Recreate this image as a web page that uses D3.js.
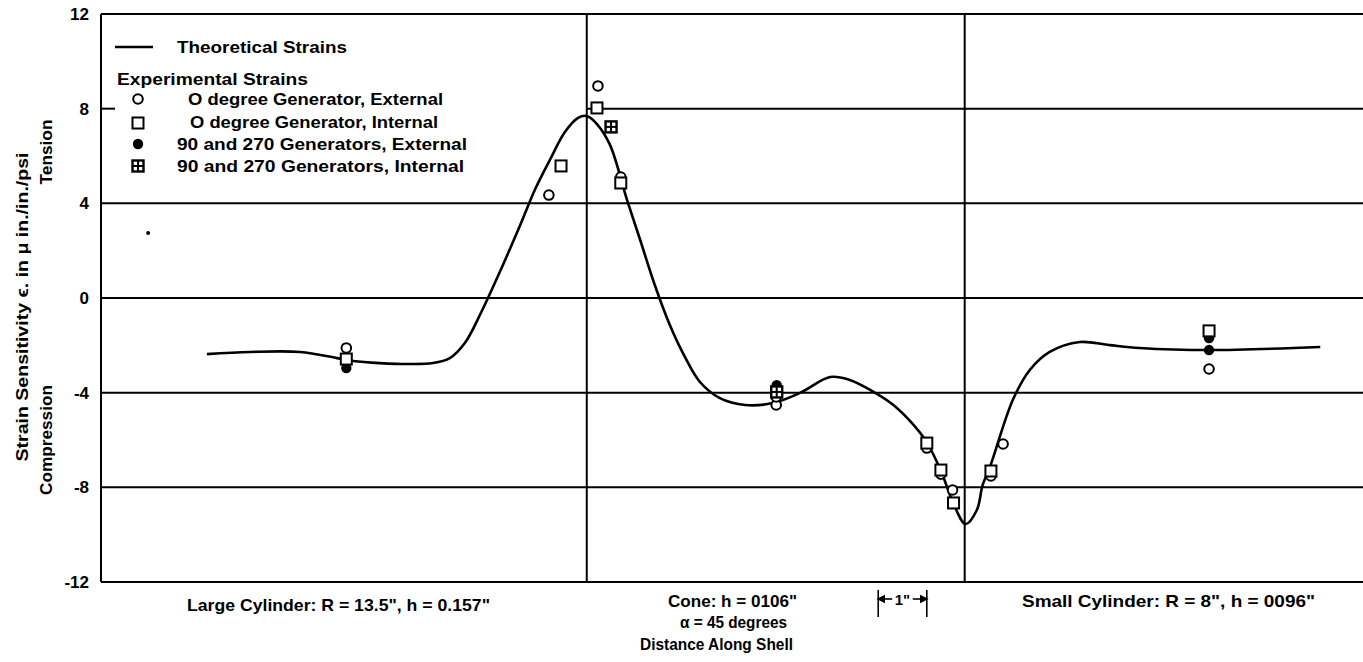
<!DOCTYPE html>
<html>
<head>
<meta charset="utf-8">
<script src="https://cdn.jsdelivr.net/npm/d3@7"></script>
<style>
  body { margin: 0; background: #fff; }
  text { font-family: "Liberation Sans", Arial, sans-serif; font-weight: bold; fill: #000; }
</style>
</head>
<body>
<svg id="chart" width="1363" height="662"></svg>
<script>
// distance along shell in inches, 0 = start of cone, cone ends at 7.78
const coneStart = 0;
const coneEnd = 7.78;

// theoretical strain curve
const theoryX = [-7.82, -6.93, -5.90, -5.14, -4.81, -4.26, -3.64, -3.17, -2.82, -2.51, -2.20, -1.79, -1.37, -1.07, -0.76, -0.45, -0.18, 0.00,
  0.21, 0.48, 0.83, 1.10, 1.40, 1.71, 2.02, 2.33, 2.74, 3.26, 3.83, 4.39, 5.01, 5.40, 5.85, 6.30, 6.70, 7.00, 7.30, 7.55, 7.80,
  8.03, 8.15, 8.30, 8.77, 9.12, 9.53, 10.15, 10.76, 11.38, 12.81, 15.10];
const theoryY = [-2.37, -2.28, -2.28, -2.54, -2.66, -2.75, -2.79, -2.75, -2.54, -1.90, -0.72, 1.10, 3.08, 4.56, 5.83, 7.01, 7.61, 7.69,
  7.35, 6.46, 4.14, 2.45, 0.55, -1.14, -2.49, -3.55, -4.23, -4.52, -4.44, -4.01, -3.34, -3.45, -3.90, -4.50, -5.30, -6.10, -7.35, -8.70, -9.55,
  -8.96, -7.90, -7.14, -4.31, -3.04, -2.28, -1.86, -1.99, -2.11, -2.20, -2.07];

// experimental strains
const extZeroX = [-4.95, -0.78, 0.23, 0.70, 3.90, 3.90, 7.00, 7.29, 7.53, 8.32, 8.57, 12.81];
const extZeroY = [-2.11, 4.35, 8.96, 5.11, -4.52, -4.18, -6.34, -7.44, -8.11, -7.52, -6.17, -3.00];
const intZeroX = [-4.95, -0.53, 0.21, 0.70, 7.00, 7.29, 7.55, 8.32, 12.81];
const intZeroY = [-2.58, 5.58, 8.03, 4.86, -6.13, -7.27, -8.66, -7.31, -1.39];
const extSideX = [-4.95, 3.91, 12.81, 12.81];
const extSideY = [-2.96, -3.68, -1.69, -2.20];
const intSideX = [0.50, 3.91];
const intSideY = [7.23, -3.97];
const speckX = [-9.03];
const speckY = [2.75];

const yTicks = [12, 8, 4, 0, -4, -8, -12];
const legendLabels = ["O degree Generator, External", "O degree Generator, Internal",
  "90 and 270 Generators, External", "90 and 270 Generators, Internal"];

const svg = d3.select("#chart");
const x = d3.scaleLinear().domain([-10, 16]).range([101, 1364]);
const y = d3.scaleLinear().domain([-12, 12]).range([582, 14]);

// frame and grid
const grid = svg.append("g").attr("stroke", "#000").attr("stroke-width", 2);
yTicks.forEach(t => {
  if (t === 8) {
    grid.append("line").attr("x1", x(-10)).attr("x2", x(-10) + 14).attr("y1", y(t)).attr("y2", y(t));
    grid.append("line").attr("x1", x(coneStart)).attr("x2", 1363).attr("y1", y(t)).attr("y2", y(t));
  } else {
    grid.append("line").attr("x1", x(-10)).attr("x2", 1363).attr("y1", y(t)).attr("y2", y(t));
  }
});
[ -10, coneStart, coneEnd ].forEach(v => {
  grid.append("line").attr("x1", x(v)).attr("x2", x(v)).attr("y1", y(12)).attr("y2", y(-12));
});

// y axis labels
const yAxis = d3.axisLeft(y).tickValues(yTicks).tickSize(0).tickPadding(12)
  .tickFormat(d => d < 0 ? "-" + Math.abs(d) : String(d));
const ga = svg.append("g").attr("transform", `translate(${x(-10)},0)`).call(yAxis);
ga.select(".domain").remove();
ga.selectAll("text").attr("font-size", 17).attr("font-family", null)
  .style("font-family", "Liberation Sans, Arial, sans-serif").style("font-weight", "bold");

// theoretical curve
const line = d3.line().x(d => x(d[0])).y(d => y(d[1])).curve(d3.curveCatmullRom.alpha(0.5));
svg.append("path").datum(d3.zip(theoryX, theoryY))
  .attr("d", line).attr("fill", "none").attr("stroke", "#000").attr("stroke-width", 2.6);

// marker drawers
function openCircle(g, cx, cy) {
  g.append("circle").attr("cx", cx).attr("cy", cy).attr("r", 4.8)
    .attr("fill", "#fff").attr("stroke", "#000").attr("stroke-width", 2);
}
function openSquare(g, cx, cy) {
  g.append("rect").attr("x", cx - 5.5).attr("y", cy - 5.5).attr("width", 11).attr("height", 11)
    .attr("fill", "#fff").attr("stroke", "#000").attr("stroke-width", 2);
}
function filledCircle(g, cx, cy) {
  g.append("circle").attr("cx", cx).attr("cy", cy).attr("r", 5.2).attr("fill", "#000");
}
function gridSquare(g, cx, cy) {
  g.append("rect").attr("x", cx - 5.5).attr("y", cy - 5.5).attr("width", 11).attr("height", 11)
    .attr("fill", "#fff").attr("stroke", "#000").attr("stroke-width", 2.4);
  g.append("line").attr("x1", cx).attr("x2", cx).attr("y1", cy - 5.5).attr("y2", cy + 5.5).attr("stroke", "#000").attr("stroke-width", 2);
  g.append("line").attr("x1", cx - 5.5).attr("x2", cx + 5.5).attr("y1", cy).attr("y2", cy).attr("stroke", "#000").attr("stroke-width", 2);
}

const pts = svg.append("g");
d3.zip(extSideX, extSideY).forEach(d => filledCircle(pts, x(d[0]), y(d[1])));
d3.zip(extZeroX, extZeroY).forEach(d => openCircle(pts, x(d[0]), y(d[1])));
d3.zip(intZeroX, intZeroY).forEach(d => openSquare(pts, x(d[0]), y(d[1])));
d3.zip(intSideX, intSideY).forEach(d => gridSquare(pts, x(d[0]), y(d[1])));
d3.zip(speckX, speckY).forEach(d => pts.append("circle").attr("cx", x(d[0])).attr("cy", y(d[1])).attr("r", 2).attr("fill", "#000"));

// fitted text helper: squeezes glyphs to the measured width
function fitText(g, tx, ty, w, s, size) {
  return g.append("text").attr("x", tx).attr("y", ty).attr("font-size", size || 17)
    .attr("textLength", w).attr("lengthAdjust", "spacingAndGlyphs").text(s);
}

// legend
const lg = svg.append("g");
lg.append("line").attr("x1", 115).attr("x2", 153).attr("y1", 47).attr("y2", 47).attr("stroke", "#000").attr("stroke-width", 2.4);
fitText(lg, 177, 53, 170, "Theoretical Strains");
fitText(lg, 117, 85, 191, "Experimental Strains");
const legendX = [188, 190, 177, 177];
const legendW = [255, 248, 290, 287];
const legendBase = [105, 128, 150, 172];
const legendSym = [openCircle, openSquare, filledCircle, gridSquare];
const legendSymY = [99, 123, 144, 166];
legendLabels.forEach((t, i) => {
  legendSym[i](lg, 138, legendSymY[i]);
  fitText(lg, legendX[i], legendBase[i], legendW[i], t);
});

// axis titles
const yt = svg.append("g");
yt.append("text").attr("transform", "translate(28,307) rotate(-90)").attr("text-anchor", "middle")
  .attr("font-size", 17).attr("textLength", 309).attr("lengthAdjust", "spacingAndGlyphs")
  .text("Strain Sensitivity \u03f5. in \u03bc in./in./psi");
yt.append("text").attr("transform", "translate(52,152) rotate(-90)").attr("text-anchor", "middle")
  .attr("font-size", 17).attr("textLength", 65).attr("lengthAdjust", "spacingAndGlyphs").text("Tension");
yt.append("text").attr("transform", "translate(52,440) rotate(-90)").attr("text-anchor", "middle")
  .attr("font-size", 17).attr("textLength", 110).attr("lengthAdjust", "spacingAndGlyphs").text("Compression");

// bottom labels
const bl = svg.append("g");
fitText(bl, 187, 611, 303, "Large Cylinder: R = 13.5\", h = 0.157\"");
fitText(bl, 668, 607, 129, "Cone: h = 0106\"");
fitText(bl, 680, 628, 107, "\u03b1 = 45 degrees");
fitText(bl, 640, 650, 153, "Distance Along Shell");
fitText(bl, 1022, 607, 293, "Small Cylinder: R = 8\", h = 0096\"");

// one inch marker
const inch = svg.append("g").attr("stroke", "#000").attr("stroke-width", 1.6);
const i0 = x(6.0), i1 = x(7.0);
inch.append("line").attr("x1", i0).attr("x2", i0).attr("y1", 590).attr("y2", 617);
inch.append("line").attr("x1", i1).attr("x2", i1).attr("y1", 590).attr("y2", 617);
inch.append("line").attr("x1", i0).attr("x2", i0 + 14).attr("y1", 599).attr("y2", 599);
inch.append("line").attr("x1", i1 - 14).attr("x2", i1).attr("y1", 599).attr("y2", 599);
inch.append("path").attr("d", `M${i0},599 l6,-3 v6 z M${i1},599 l-6,-3 v6 z`).attr("fill", "#000");
svg.append("text").attr("x", (i0 + i1) / 2).attr("y", 605).attr("text-anchor", "middle").attr("font-size", 15).text("1\"");
</script>
</body>
</html>
